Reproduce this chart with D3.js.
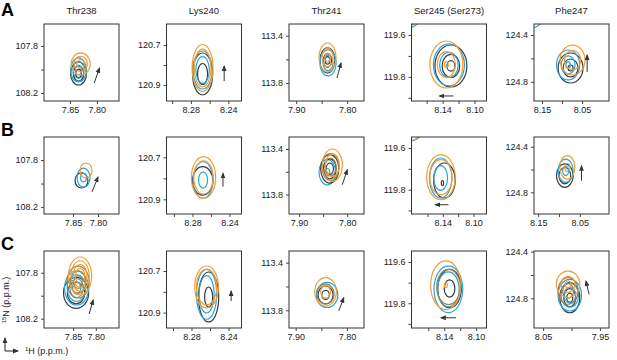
<!DOCTYPE html>
<html>
<head>
<meta charset="utf-8">
<script src="https://cdn.jsdelivr.net/npm/d3@7"></script>
<style>
  body { margin: 0; background: #fff; }
  text { font-family: "Liberation Sans", Arial, sans-serif; fill: #222; }
</style>
</head>
<body>
<svg id="chart" width="617" height="360"></svg>
<script>
const residues = ['Thr238', 'Lys240', 'Thr241', 'Ser245 (Ser273)', 'Phe247'];
const rowLetters = ['A', 'B', 'C'];

// ppm range of each panel [row][col]: 1H left -> right, 15N top -> bottom
const xDomains = [
  [[7.898, 7.759], [8.306, 8.226], [7.914, 7.767], [8.179, 8.085], [8.170, 7.983]],
  [[7.908, 7.758], [8.308, 8.227], [7.921, 7.765], [8.181, 8.083], [8.160, 7.980]],
  [[7.914, 7.749], [8.307, 8.226], [7.913, 7.767], [8.181, 8.087], [8.066, 7.934]]
];
const yDomains = [
  [[107.613, 108.268], [120.595, 120.980], [113.300, 113.953], [119.548, 119.915], [124.306, 124.964]],
  [[107.604, 108.259], [120.603, 120.970], [113.295, 113.970], [119.547, 119.917], [124.315, 124.990]],
  [[107.611, 108.281], [120.604, 120.974], [113.302, 113.949], [119.547, 119.920], [124.394, 125.055]]
];

// tick labels
const xTicks = [[7.85, 7.80], [8.28, 8.24], [7.90, 7.80], [8.14, 8.10], [8.15, 8.05]];
const xTicksC5 = [8.05, 7.95];
const xMinor = [[], [8.30, 8.26], [7.85], [8.16, 8.12], [8.10]];
const xMinorC5 = [8.00];
const yTicks = [[107.8, 108.2], [120.7, 120.9], [113.4, 113.8], [119.6, 119.8], [124.4, 124.8]];
const yMinor = [[108.0], [120.8], [113.6], [119.7, 119.9], [124.6]];

// peaks: [spectrum, 1H, 15N, 1H half-width, 15N half-width, contour levels]
const peaksA = [
  [['dark', 7.834, 108.034, 0.0148, 0.098, [1, 0.65, 0.35]],
   ['blue', 7.834, 108.004, 0.0148, 0.102, [1, 0.7, 0.4]],
   ['orange', 7.830, 107.953, 0.0176, 0.094, [1, 0.7, 0.4]]],
  [['dark', 8.2675, 120.845, 0.0107, 0.105, [1, 0.5]],
   ['blue', 8.2675, 120.825, 0.0102, 0.095, [1, 0.7]],
   ['orange', 8.2675, 120.815, 0.0112, 0.1175, [1, 0.8]]],
  [['dark', 7.8385, 113.609, 0.0147, 0.106, [1, 0.55, 0.3]],
   ['blue', 7.8375, 113.630, 0.0160, 0.110, [1, 0.6]],
   ['orange', 7.8385, 113.584, 0.0167, 0.123, [1, 0.65, 0.3]]],
  [['dark', 8.1296, 119.748, 0.0200, 0.100, [1, 0.55, 0.25]],
   ['blue', 8.1321, 119.743, 0.0194, 0.100, [1, 0.6]],
   ['orange', 8.1353, 119.741, 0.0206, 0.112, [1, 0.55, 0.12]],
   ['blue', 8.184, 119.500, 0.0175, 0.067, [1]],
   ['orange', 8.186, 119.490, 0.0185, 0.070, [1]]],
  [['dark', 8.0788, 124.682, 0.031, 0.128, [1, 0.6, 0.2]],
   ['blue', 8.0850, 124.656, 0.0288, 0.128, [1, 0.6, 0.2]],
   ['orange', 8.0738, 124.614, 0.031, 0.128, [1, 0.65]],
   ['blue', 8.1775, 124.238, 0.030, 0.103, [1]]]
];
const peaksB = [
  [['dark', 7.833, 107.974, 0.013, 0.064, [1]],
   ['blue', 7.829, 107.949, 0.013, 0.081, [1, 0.45]],
   ['orange', 7.824, 107.889, 0.012, 0.064, [1]]],
  [['dark', 8.2689, 120.812, 0.011, 0.0676, [1]],
   ['blue', 8.2685, 120.808, 0.0107, 0.087, [1, 0.45]],
   ['orange', 8.268, 120.796, 0.0131, 0.099, [1, 0.8]]],
  [['blue', 7.8414, 113.604, 0.0172, 0.110, [1, 0.3]],
   ['dark', 7.8362, 113.574, 0.019, 0.1246, [1, 0.7, 0.4]],
   ['olive', 7.8348, 113.558, 0.0197, 0.1316, [0.9, 0.6]],
   ['orange', 7.8308, 113.542, 0.0207, 0.142, [1, 0.7]]],
  [['dark', 8.138, 119.756, 0.0141, 0.084, [1]],
   ['dark', 8.1405, 119.768, 0.0015, 0.012, [1]],
   ['blue', 8.1429, 119.744, 0.0146, 0.096, [1, 0.62]],
   ['orange', 8.1425, 119.740, 0.0186, 0.108, [1, 0.78]],
   ['blue', 8.1834, 119.499, 0.0183, 0.067, [1]],
   ['orange', 8.1845, 119.495, 0.019, 0.070, [1]]],
  [['dark', 8.086, 124.654, 0.020, 0.1026, [1, 0.7]],
   ['blue', 8.084, 124.611, 0.018, 0.1026, [1, 0.4]],
   ['orange', 8.080, 124.581, 0.018, 0.1026, [1, 0.35]]]
];
const peaksC = [
  [['dark', 7.8434, 107.976, 0.0276, 0.135, [1, 0.7]],
   ['blue', 7.8423, 107.933, 0.0265, 0.148, [1, 0.78, 0.56, 0.34]],
   ['olive', 7.839, 107.881, 0.0243, 0.139, [1, 0.7, 0.4]],
   ['orange', 7.8345, 107.828, 0.0254, 0.165, [1, 0.8, 0.6, 0.4]]],
  [['dark', 8.2615, 120.825, 0.0109, 0.120, [1, 0.4]],
   ['blue', 8.2637, 120.812, 0.0109, 0.120, [1, 0.75]],
   ['orange', 8.2637, 120.777, 0.0128, 0.101, [1, 0.85]]],
  [['dark', 7.8418, 113.671, 0.0146, 0.0756, [1, 0.5]],
   ['blue', 7.8389, 113.6714, 0.021, 0.105, [1]],
   ['olive', 7.8418, 113.663, 0.0166, 0.084, [1]],
   ['orange', 7.8418, 113.6446, 0.021, 0.119, [1, 0.45]]],
  [['dark', 8.1333, 119.7286, 0.0148, 0.093, [1, 0.45]],
   ['blue', 8.1348, 119.7325, 0.018, 0.113, [1, 0.75]],
   ['olive', 8.1346, 119.7214, 0.0148, 0.085, [1]],
   ['orange', 8.138, 119.7126, 0.019, 0.1175, [1, 0.1]]],
  [['dark', 8.003, 124.795, 0.0176, 0.129, [1, 0.6, 0.3]],
   ['blue', 8.003, 124.773, 0.0206, 0.136, [1, 0.75, 0.5]],
   ['olive', 8.006, 124.737, 0.0176, 0.114, [1, 0.55]],
   ['orange', 8.006, 124.680, 0.0206, 0.114, [1, 0.6, 0.25]]]
];

// shift arrows: [1H start, 15N start, 1H end, 15N end]
const arrowsA = [[7.805, 108.115, 7.795, 107.987], [8.2445, 120.88, 8.2445, 120.805],
  [7.820, 113.758, 7.812, 113.63], [8.1265, 119.891, 8.144, 119.891], [8.0375, 124.716, 8.0375, 124.571]];
const arrowsB = [[7.812, 108.072, 7.800, 107.944], [8.247, 120.840, 8.247, 120.776],
  [7.8101, 113.713, 7.7998, 113.582], [8.1327, 119.8725, 8.1501, 119.8725], [8.046, 124.698, 8.046, 124.567]];
const arrowsC = [[7.8147, 108.159, 7.8058, 108.037], [8.2372, 120.844, 8.2372, 120.796],
  [7.8161, 113.806, 7.8064, 113.694], [8.1253, 119.8704, 8.1443, 119.8704], [7.969, 124.766, 7.9747, 124.652]];

const spectrumColors = { dark: '#333b44', blue: '#2da2d8', olive: '#9c8048', orange: '#ef9f35' };

const peaks = [peaksA, peaksB, peaksC];
const arrows = [arrowsA, arrowsB, arrowsC];

// layout
const colLeft = [44, 166.5, 289, 411.5, 534];
const rowTop = [24, 137, 251];
const letterY = [16, 136, 250];
const boxW = 75, boxH = 77;

const svg = d3.select('#chart');

svg.append('defs').append('marker')
  .attr('id', 'head')
  .attr('viewBox', '0 0 6 6')
  .attr('refX', 5).attr('refY', 3)
  .attr('markerWidth', 6).attr('markerHeight', 6)
  .attr('markerUnits', 'userSpaceOnUse')
  .attr('orient', 'auto')
  .append('path')
  .attr('d', 'M0,0.6L6,3L0,5.4Z')
  .attr('fill', '#333');

// column titles
svg.selectAll('.title')
  .data(residues)
  .enter()
  .append('text')
  .attr('x', (d, i) => colLeft[i] + boxW / 2)
  .attr('y', 14)
  .attr('text-anchor', 'middle')
  .style('font-size', '9.5px')
  .text(d => d);

// row letters
svg.selectAll('.letter')
  .data(rowLetters)
  .enter()
  .append('text')
  .attr('x', 1)
  .attr('y', (d, i) => letterY[i])
  .style('font-size', '18px')
  .style('font-weight', 'bold')
  .style('fill', '#000')
  .text(d => d);

const styleAxis = g => {
  g.select('.domain').remove();
  g.selectAll('.tick line').attr('stroke', '#444');
  g.selectAll('.tick text').style('font-size', '9px').style('fill', '#222');
};

rowLetters.forEach((letter, r) => {
  residues.forEach((res, c) => {
    const x = d3.scaleLinear().domain(xDomains[r][c]).range([0, boxW]);
    const y = d3.scaleLinear().domain(yDomains[r][c]).range([0, boxH]);
    const last = r === 2 && c === 4;

    const g = svg.append('g')
      .attr('transform', `translate(${colLeft[c]},${rowTop[r]})`);

    const clipId = `clip-${r}-${c}`;
    g.append('clipPath').attr('id', clipId)
      .append('rect').attr('width', boxW).attr('height', boxH);

    const plot = g.append('g').attr('clip-path', `url(#${clipId})`);

    peaks[r][c].forEach(([s, h, n, rh, rn, levels]) => {
      plot.selectAll(null)
        .data(levels)
        .enter()
        .append('ellipse')
        .attr('cx', x(h))
        .attr('cy', y(n))
        .attr('rx', lv => Math.abs(x(h + rh * lv) - x(h)))
        .attr('ry', lv => Math.abs(y(n + rn * lv) - y(n)))
        .attr('fill', 'none')
        .attr('stroke', spectrumColors[s])
        .attr('stroke-width', 1.2);
    });

    const [h0, n0, h1, n1] = arrows[r][c];
    g.append('line')
      .attr('x1', x(h0)).attr('y1', y(n0))
      .attr('x2', x(h1)).attr('y2', y(n1))
      .attr('stroke', '#333')
      .attr('stroke-width', 1)
      .attr('marker-end', 'url(#head)');

    // frame
    g.append('rect')
      .attr('width', boxW).attr('height', boxH)
      .attr('fill', 'none')
      .attr('stroke', '#333')
      .attr('stroke-width', 1);

    g.append('g')
      .attr('transform', `translate(0,${boxH})`)
      .call(d3.axisBottom(x).tickValues(last ? xTicksC5 : xTicks[c])
        .tickSize(3).tickPadding(3).tickFormat(d3.format('.2f')))
      .call(styleAxis);
    g.append('g')
      .attr('transform', `translate(0,${boxH})`)
      .call(d3.axisBottom(x).tickValues(last ? xMinorC5 : xMinor[c])
        .tickSize(3).tickFormat(''))
      .call(styleAxis);

    g.append('g')
      .call(d3.axisLeft(y).tickValues(yTicks[c])
        .tickSize(3).tickPadding(3).tickFormat(d3.format('.1f')))
      .call(styleAxis);
    g.append('g')
      .call(d3.axisLeft(y).tickValues(yMinor[c]).tickSize(3).tickFormat(''))
      .call(styleAxis);
  });
});

// axis direction key
const key = svg.append('g').attr('transform', 'translate(5,351)');
key.append('line').attr('x1', 0).attr('y1', 0).attr('x2', 0).attr('y2', -13)
  .attr('stroke', '#222').attr('marker-end', 'url(#head)');
key.append('line').attr('x1', 0).attr('y1', 0).attr('x2', 13).attr('y2', 0)
  .attr('stroke', '#222').attr('marker-end', 'url(#head)');

const hLabel = svg.append('text').attr('x', 25).attr('y', 354).style('font-size', '9px');
hLabel.append('tspan').attr('dy', -3).style('font-size', '6px').text('1');
hLabel.append('tspan').attr('dy', 3).text('H (p.p.m.)');

const nLabel = svg.append('text')
  .attr('transform', 'translate(9,300) rotate(-90)')
  .attr('text-anchor', 'middle')
  .style('font-size', '9px');
nLabel.append('tspan').attr('dy', -3).style('font-size', '6px').text('15');
nLabel.append('tspan').attr('dy', 3).text('N (p.p.m.)');
</script>
</body>
</html>
